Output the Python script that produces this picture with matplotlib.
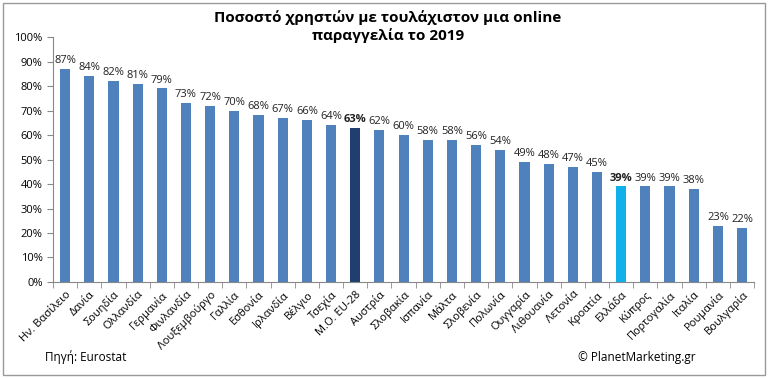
import matplotlib
matplotlib.use("Agg")
import matplotlib.pyplot as plt
from matplotlib.patches import Rectangle
import numpy as np

plt.rcParams["font.family"] = ["Open Sans", "DejaVu Sans"]

countries = [
    "Ην. Βασίλειο", "Δανία", "Σουηδία", "Ολλανδία", "Γερμανία", "Φινλανδία",
    "Λουξεμβούργο", "Γαλλία", "Εσθονία", "Ιρλανδία", "Βέλγιο", "Τσεχία",
    "Μ.Ο. EU-28", "Αυστρία", "Σλοβακία", "Ισπανία", "Μάλτα", "Σλοβενία",
    "Πολωνία", "Ουγγαρία", "Λιθουανία", "Λετονία", "Κροατία", "Ελλάδα",
    "Κύπρος", "Πορτογαλία", "Ιταλία", "Ρουμανία", "Βουλγαρία",
]
values = [87, 84, 82, 81, 79, 73, 72, 70, 68, 67, 66, 64, 63, 62, 60, 58, 58,
          56, 54, 49, 48, 47, 45, 39, 39, 39, 38, 23, 22]
highlight_eu = "Μ.Ο. EU-28"
highlight_gr = "Ελλάδα"

colors = []
for c in countries:
    if c == highlight_eu:
        colors.append("#1f3f6e")
    elif c == highlight_gr:
        colors.append("#12b0ea")
    else:
        colors.append("#4f81bd")

fig = plt.figure(figsize=(7.68, 3.78), dpi=100)
fig.patches.append(Rectangle((0.004, 0.008), 0.992, 0.985, transform=fig.transFigure,
                             fill=False, edgecolor="#999999", linewidth=1))
ax = fig.add_axes([0.069, 0.254, 0.913, 0.648])

x = np.arange(len(countries))
ax.bar(x, values, width=0.42, color=colors, zorder=2)

for xi, v, c in zip(x, values, countries):
    bold = c in (highlight_eu, highlight_gr)
    ax.text(xi, v + 1.2, f"{v}%", ha="center", va="bottom", fontsize=8,
            color="#222222", fontweight="bold" if bold else "normal")

ax.set_xlim(-0.5, len(countries) - 0.5)
ax.set_ylim(0, 100)
ax.set_yticks(range(0, 101, 10))
ax.set_yticklabels([f"{t}%" for t in range(0, 101, 10)], fontsize=8)
ax.set_xticks(x)
ax.set_xticklabels(countries, rotation=45, ha="right", rotation_mode="anchor",
                   fontsize=8)
ax.set_xticks(np.arange(-0.5, len(countries), 1), minor=True)
ax.tick_params(axis="x", which="major", length=0, pad=5)
ax.tick_params(axis="x", which="minor", length=4, color="#888888")
ax.tick_params(axis="y", length=4, color="#888888")
for s in ["top", "right"]:
    ax.spines[s].set_visible(False)
for s in ["left", "bottom"]:
    ax.spines[s].set_color("#888888")

fig.text(0.505, 0.972, "Ποσοστό χρηστών με τουλάχιστον μια online\nπαραγγελία το 2019",
         ha="center", va="top", fontsize=11, fontweight="bold", linespacing=1.2)
fig.text(0.058, 0.055, "Πηγή: Eurostat", fontsize=8.5, va="center")
fig.text(0.752, 0.055, "© PlanetMarketing.gr", fontsize=8.5, va="center")

fig.savefig("out.png", dpi=100)
